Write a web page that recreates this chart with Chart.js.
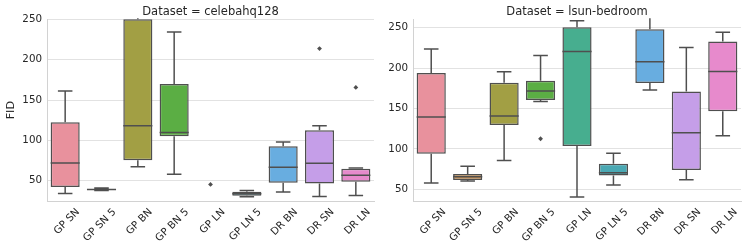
<!DOCTYPE html>
<html>
<head>
<meta charset="utf-8">
<script src="https://cdn.jsdelivr.net/npm/chart.js@4"></script>
<style>
  body { margin: 0; background: #fff; }
  canvas { position: absolute; top: 0; }
  #celeba { left: 0; }
  #lsun { left: 378px; }
</style>
</head>
<body>
<canvas id="celeba" width="378" height="251"></canvas>
<canvas id="lsun" width="369" height="251"></canvas>
<script>
const categories = ['GP SN', 'GP SN 5', 'GP BN', 'GP BN 5', 'GP LN', 'GP LN 5', 'DR BN', 'DR SN', 'DR LN'];
const boxColors = ['#e8919d', '#d2914b', '#a29f44', '#5bae44', '#47ae8f', '#4aa8b3', '#68ade0', '#c59ee8', '#e78acc'];
const edgeColor = '#4f4f4f';

// celebahq128 (GP LN box sits below the visible range, only its outlier shows)
const celebaLow    = [34.4, 38.0, 67.3, 58.2, 10, 30.2, 36.0, 30.7, 31.9];
const celebaQ1     = [42.2, 38.5, 75.5, 105.1, 12, 31.5, 47.5, 46.7, 48.8];
const celebaMedian = [72.2, 39.3, 118.3, 109.7, 14, 34.0, 66.9, 71.8, 57.0];
const celebaQ3     = [122.4, 40.0, 250.0, 169.8, 16, 36.4, 92.8, 112.6, 64.8];
const celebaHigh   = [161.1, 41.0, 300.0, 234.4, 20, 38.1, 98.1, 118.3, 66.0];
const celebaOutliers = [[4, 45.5], [7, 213.8], [8, 165.6]];

// lsun-bedroom
const lsunLow    = [57.8, 60.2, 85.8, 158.8, 40.4, 55.3, 172.9, 61.9, 116.3];
const lsunQ1     = [94.1, 61.5, 129.5, 160.5, 103.5, 67.2, 181.5, 73.8, 146.5];
const lsunMedian = [139.4, 65.6, 140.7, 171.6, 220.7, 70.5, 207.9, 120.0, 196.0];
const lsunQ3     = [193.9, 68.9, 181.9, 184.4, 250.8, 81.7, 248.3, 171.2, 233.1];
const lsunHigh   = [223.6, 78.4, 195.5, 215.8, 258.7, 94.5, 275.0, 225.7, 244.6];
const lsunOutliers = [[3, 112.6]];

const yTicks = [50, 100, 150, 200, 250];
const textColor = '#262626';

function whiskers(low, q1, median, q3, high) {
  return {
    id: 'whiskers',
    afterDatasetsDraw(chart) {
      const ctx = chart.ctx, a = chart.chartArea;
      const x = chart.scales.x, y = chart.scales.y;
      const boxes = chart.getDatasetMeta(0).data;
      ctx.save();
      ctx.beginPath();
      ctx.rect(a.left, a.top - 1, a.right - a.left, a.bottom - a.top + 1);
      ctx.clip();
      ctx.strokeStyle = edgeColor;
      ctx.lineWidth = 1.5;
      for (let i = 0; i < low.length; i++) {
        const cx = x.getPixelForValue(i);
        const half = boxes[i].width / 2;
        const yLo = y.getPixelForValue(low[i]);
        const yHi = y.getPixelForValue(high[i]);
        ctx.beginPath();
        ctx.moveTo(cx, y.getPixelForValue(q1[i])); ctx.lineTo(cx, yLo);
        ctx.moveTo(cx, y.getPixelForValue(q3[i])); ctx.lineTo(cx, yHi);
        ctx.moveTo(cx - half / 2, yLo); ctx.lineTo(cx + half / 2, yLo);
        ctx.moveTo(cx - half / 2, yHi); ctx.lineTo(cx + half / 2, yHi);
        const yMed = y.getPixelForValue(median[i]);
        ctx.moveTo(cx - half, yMed); ctx.lineTo(cx + half, yMed);
        ctx.stroke();
      }
      ctx.restore();
    }
  };
}

function boxChart(id, title, low, q1, median, q3, high, outliers, yMin, yMax, yWidth, padRight, yTitle) {
  return new Chart(document.getElementById(id), {
    type: 'bar',
    data: {
      labels: categories,
      datasets: [{
        data: q1.map((v, i) => [v, q3[i]]),
        backgroundColor: boxColors,
        borderColor: edgeColor,
        borderWidth: 1.5,
        borderSkipped: false,
        barPercentage: 0.8,
        categoryPercentage: 1,
        clip: 1
      }, {
        type: 'line',
        showLine: false,
        data: outliers.map(o => ({ x: categories[o[0]], y: o[1] })),
        pointStyle: 'rectRot',
        pointRadius: 2.4,
        pointBackgroundColor: edgeColor,
        pointBorderWidth: 0
      }]
    },
    options: {
      responsive: false,
      animation: false,
      events: [],
      layout: { padding: { right: padRight } },
      plugins: {
        legend: { display: false },
        tooltip: { enabled: false },
        title: {
          display: true,
          text: title,
          fullSize: false,
          color: textColor,
          font: { family: 'DejaVu Sans', size: 11.5, weight: 'normal' },
          padding: { top: 5, bottom: 0.5 }
        }
      },
      scales: {
        x: {
          type: 'category',
          offset: true,
          grid: { display: false, drawTicks: false },
          border: { display: true, color: '#d2d2d2', width: 1 },
          ticks: {
            autoSkip: false,
            minRotation: 45,
            maxRotation: 45,
            padding: 5,
            labelOffset: 13,
            color: textColor,
            font: { family: 'DejaVu Sans', size: 10.3 }
          },
          afterFit: s => { s.height = 50; }
        },
        y: {
          type: 'linear',
          min: yMin,
          max: yMax,
          grid: { color: '#e2e2e2', lineWidth: 1, drawTicks: false },
          border: { display: true, color: '#d2d2d2', width: 1 },
          ticks: {
            stepSize: 50,
            includeBounds: false,
            padding: 5,
            color: textColor,
            font: { family: 'DejaVu Sans', size: 10.3 }
          },
          afterBuildTicks: s => { s.ticks = s.ticks.filter(t => yTicks.includes(t.value)); },
          title: {
            display: !!yTitle,
            text: yTitle,
            color: textColor,
            font: { family: 'DejaVu Sans', size: 11.2 },
            padding: { top: 4, bottom: 0 }
          },
          afterFit: s => { s.width = yWidth; }
        }
      }
    },
    plugins: [whiskers(low, q1, median, q3, high)]
  });
}

boxChart('celeba', 'Dataset = celebahq128', celebaLow, celebaQ1, celebaMedian, celebaQ3, celebaHigh,
  celebaOutliers, 25, 250, 47, 4, 'FID');
boxChart('lsun', 'Dataset = lsun-bedroom', lsunLow, lsunQ1, lsunMedian, lsunQ3, lsunHigh,
  lsunOutliers, 35.5, 260.5, 35, 6, '');
</script>
</body>
</html>
